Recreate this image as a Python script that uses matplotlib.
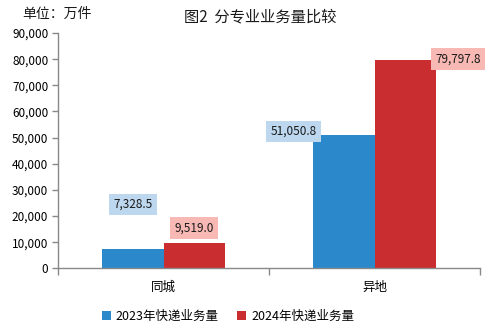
import matplotlib
matplotlib.use("Agg")
import matplotlib.pyplot as plt
import numpy as np

plt.rcParams['font.family'] = ['Noto Sans CJK SC', 'DejaVu Sans']

categories = ['同城', '异地']
series_names = ['2023年快递业务量', '2024年快递业务量']
values_2023 = [7328.5, 51050.8]
values_2024 = [9519.0, 79797.8]
yticks = [0, 10000, 20000, 30000, 40000, 50000, 60000, 70000, 80000, 90000]

blue = '#2B88CA'
red = '#C92D30'
blue_bg = '#BDD7EE'
red_bg = '#F8B9B4'
gray = '#898989'

fig = plt.figure(figsize=(4.98, 3.33), dpi=100)
ax = fig.add_axes([58/498, 1-268.3/333, (480-58)/498, (268.3-33)/333])

x = np.arange(len(categories))
w = 0.29
b1 = ax.bar(x - w/2, values_2023, w, color=blue, label=series_names[0])
b2 = ax.bar(x + w/2, values_2024, w, color=red, label=series_names[1])

ax.set_xlim(-0.5, 1.5)
ax.set_ylim(0, 90000)
ax.set_yticks(yticks)
ax.set_yticklabels([f'{v:,}' for v in yticks], fontsize=8.5)
ax.set_xticks([-0.5, 0.5, 1.5])
ax.set_xticklabels([])
ax.set_xticks(x, minor=True)
ax.set_xticklabels(categories, minor=True, fontsize=9)
ax.tick_params(axis='x', which='minor', length=0, pad=9)
ax.tick_params(axis='x', which='major', length=5, color=gray, width=1)
ax.tick_params(axis='y', length=4, color=gray, width=1, pad=3)
for s in ['top', 'right']:
    ax.spines[s].set_visible(False)
for s in ['left', 'bottom']:
    ax.spines[s].set_color(gray)
    ax.spines[s].set_linewidth(1)

offsets_2023 = [(0, 45), (-50.5, 3.3)]
offsets_2024 = [(0, 15.4), (53, 0.7)]
for rect, v, off in zip(b1, values_2023, offsets_2023):
    ax.annotate(f'{v:,.1f}', (rect.get_x() + rect.get_width()/2, rect.get_height()),
                xytext=off, textcoords='offset pixels', ha='center', va='center',
                fontsize=8.5, color='#1a1a1a',
                bbox=dict(boxstyle='square,pad=0.35', fc=blue_bg, ec='none'))
for rect, v, off in zip(b2, values_2024, offsets_2024):
    ax.annotate(f'{v:,.1f}', (rect.get_x() + rect.get_width()/2, rect.get_height()),
                xytext=off, textcoords='offset pixels', ha='center', va='center',
                fontsize=8.5, color='#1a1a1a',
                bbox=dict(boxstyle='square,pad=0.35', fc=red_bg, ec='none'))

fig.text(260/498, 1-17/333, '图2  分专业业务量比较', ha='center', va='center', fontsize=11, color='#1a1a1a')
fig.text(22/498, 1-14/333, '单位：万件', ha='left', va='center', fontsize=10, color='#1a1a1a')

leg = fig.legend(handles=[b1, b2], labels=series_names, loc='center',
                 bbox_to_anchor=(228/498, 1-316/333), ncol=2, frameon=False,
                 fontsize=9, handlelength=0.7, handleheight=0.7, handletextpad=0.4,
                 columnspacing=1.5)

fig.savefig('out.png', dpi=100)
